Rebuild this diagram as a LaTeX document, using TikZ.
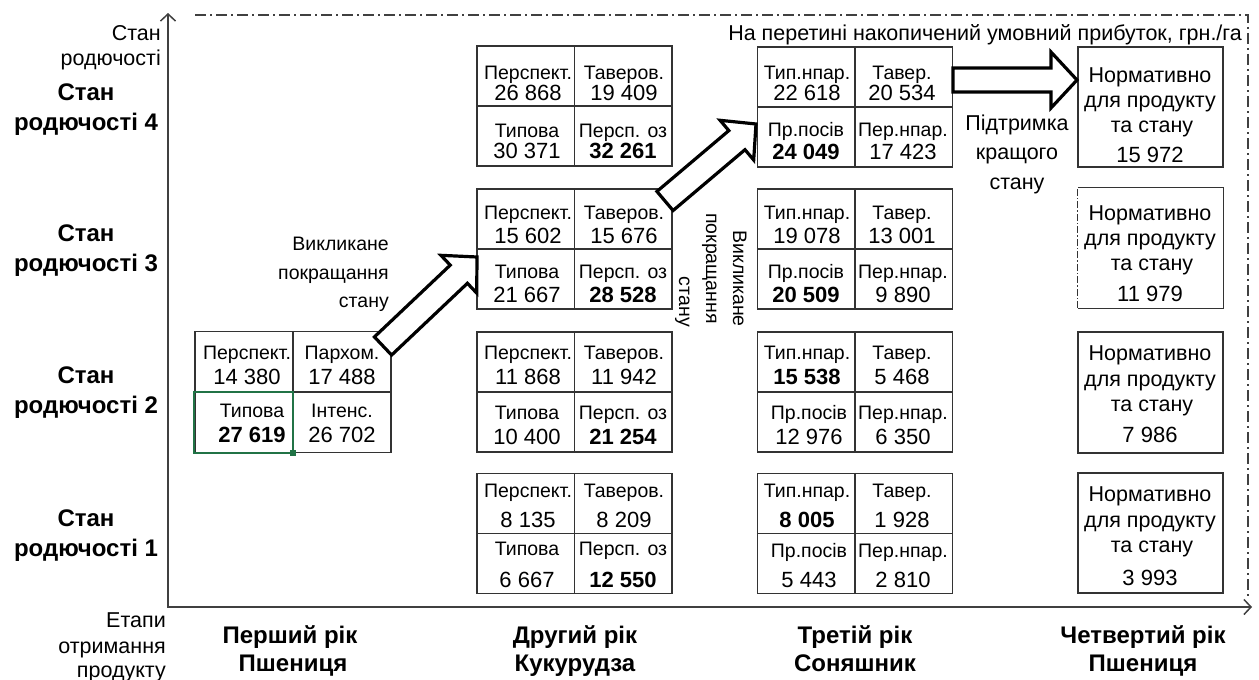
\documentclass[tikz,border=0pt]{standalone}
\usepackage{fontspec}
\setmainfont{Liberation Sans}
\usetikzlibrary{calc,arrows.meta}
\definecolor{selg}{HTML}{217346}
\tikzset{
  gridbox/.style={draw=black!80, line width=1.2pt, inner sep=0pt, minimum width=195pt, minimum height=120pt},
  gline/.style={draw=black!80, line width=1.2pt},
  gdash/.style={draw=black!80, line width=1pt, dash pattern=on 7pt off 2pt on 1.5pt off 2pt},
  lbl/.style={font=\fontsize{19.5}{22}\selectfont, inner sep=0pt, text height=14pt, text depth=0pt},
  num/.style={font=\fontsize{22}{25}\selectfont, inner sep=0pt, text height=15.8pt, text depth=0pt},
  numb/.style={num, font=\fontsize{22}{25}\selectfont\bfseries},
  txt/.style={font=\fontsize{21.5}{25}\selectfont, inner sep=0pt, text height=15.4pt, text depth=0pt},
  rtxt/.style={font=\fontsize{19.5}{22}\selectfont, inner sep=0pt, text height=14pt, text depth=0pt},
  big/.style={font=\fontsize{24}{28}\selectfont\bfseries, inner sep=0pt, text height=17.2pt, text depth=0pt},
  axisline/.style={draw=black!75, line width=1.5pt},
  frameline/.style={draw=black!75, line width=1.5pt, dash pattern=on 11pt off 4pt on 2pt off 4pt},
  bigarrow/.style={draw=black, fill=white, line width=3.2pt, line join=miter},
  sel/.style={draw=selg, line width=2pt}
}
\newcommand\qcell[7]{\node[lbl] (#1l) at (#2,#3) {#5}; \node[#7] (#1n) at (#2,#4) {#6};}
\newcommand\gblock[3]{\node[gridbox] (#1) at (#2,#3) {};
  \draw[gline] (#1.north) -- (#1.south) (#1.west) -- (#1.east);}
\newcommand\barrow[5]{%
\draw[bigarrow] let \p1=($(#2)-(#1)$), \n1={atan2(\y1,\x1)}, \n2={veclen(\x1,\y1)} in
 ($(#1)+({\n1+90}:#3)$) -- ($(#1)+({\n1+90}:#3)+({\n1}:{\n2-#5})$) -- ($(#1)+({\n1+90}:#4)+({\n1}:{\n2-#5})$) -- (#2) -- ($(#1)+({\n1-90}:#4)+({\n1}:{\n2-#5})$) -- ($(#1)+({\n1-90}:#3)+({\n1}:{\n2-#5})$) -- ($(#1)+({\n1-90}:#3)$) -- cycle;}
\begin{document}
\begin{tikzpicture}[x=1pt,y=-1pt]
\useasboundingbox (0,0) rectangle (1259,680);
% frame
\coordinate (fa) at (195,15); \coordinate (fb) at (1248,15); \coordinate (fc) at (1248,596);
\draw[frameline] (fa) -- (fb) -- (fc);
% axes
\coordinate (o) at (168,607); \coordinate (ytop) at (168,13); \coordinate (xend) at (1252,607);
\draw[axisline, {Straight Barb[length=7pt,width=15pt]}-{Straight Barb[length=7pt,width=15pt]}] (ytop) -- (o) -- (xend);
% axis labels
\node[txt, anchor=east] (ya) at (161,33) {Стан};
\node[txt, anchor=east] (yb) at (161,58) {родючості};
\node[txt, anchor=east] (xa) at (166,620) {Етапи};
\node[txt, anchor=east] (xb) at (166,646) {отримання};
\node[txt, anchor=east] (xc) at (166,670) {продукту};
\node[txt] (title) at (985,33) {На перетині накопичений умовний прибуток, грн./га};
% row labels
\node[big] (r4a) at (86,92) {Стан}; \node[big] (r4b) at (86,122) {родючості 4};
\node[big] (r3a) at (86,233) {Стан}; \node[big] (r3b) at (86,263) {родючості 3};
\node[big] (r2a) at (86,375) {Стан}; \node[big] (r2b) at (86,405) {родючості 2};
\node[big] (r1a) at (86,518) {Стан}; \node[big] (r1b) at (86,548) {родючості 1};
% column labels
\node[big] (c1a) at (290,635) {Перший рік}; \node[big] (c1b) at (293,663) {Пшениця};
\node[big] (c2a) at (575,635) {Другий рік}; \node[big] (c2b) at (575,663) {Кукурудза};
\node[big] (c3a) at (855,635) {Третій рік}; \node[big] (c3b) at (855,663) {Соняшник};
\node[big] (c4a) at (1143,635) {Четвертий рік}; \node[big] (c4b) at (1143,663) {Пшениця};
% year 1
\node[gridbox, minimum width=196pt, minimum height=121pt] (b12) at (293,392) {};
\draw[gline] (b12.north) -- (b12.south) (b12.west) -- (b12.east);
\draw[sel] (b12.west) rectangle (b12.south);
\node[fill=selg, minimum size=6pt, inner sep=0pt] (handle) at (b12.south) {};
\qcell{p1a}{247}{352}{377}{Перспект.}{14 380}{num}
\qcell{p1b}{342}{352}{377}{Пархом.}{17 488}{num}
\qcell{p1c}{252}{410}{435}{Типова}{27 619}{numb}
\qcell{p1d}{342}{410}{435}{Інтенс.}{26 702}{num}
% year 2
\gblock{b24}{574.5}{106}
\gblock{b23}{574.5}{249}
\gblock{b22}{574.5}{392}
\gblock{b21}{574.5}{533.5}
\qcell{q4a}{528}{72}{93}{Перспект.}{26 868}{num}
\qcell{q4b}{624}{72}{93}{Таверов.}{19 409}{num}
\qcell{q4c}{527}{130}{151}{Типова}{30 371}{num}
\qcell{q4d}{623}{130}{151}{Персп. оз}{32 261}{numb}
\qcell{q3a}{528}{212}{236}{Перспект.}{15 602}{num}
\qcell{q3b}{624}{212}{236}{Таверов.}{15 676}{num}
\qcell{q3c}{527}{271}{295}{Типова}{21 667}{num}
\qcell{q3d}{623}{271}{295}{Персп. оз}{28 528}{numb}
\qcell{q2a}{528}{352}{377}{Перспект.}{11 868}{num}
\qcell{q2b}{624}{352}{377}{Таверов.}{11 942}{num}
\qcell{q2c}{527}{412}{437}{Типова}{10 400}{num}
\qcell{q2d}{623}{412}{437}{Персп. оз}{21 254}{numb}
\qcell{q1a}{528}{490}{520}{Перспект.}{8 135}{num}
\qcell{q1b}{624}{490}{520}{Таверов.}{8 209}{num}
\qcell{q1c}{527}{548}{580}{Типова}{6 667}{num}
\qcell{q1d}{623}{548}{580}{Персп. оз}{12 550}{numb}
% year 3
\gblock{b34}{855}{107}
\gblock{b33}{855}{249}
\gblock{b32}{855}{392}
\gblock{b31}{855}{533.5}
\qcell{s4a}{807}{72}{93}{Тип.нпар.}{22 618}{num}
\qcell{s4b}{902}{72}{93}{Тавер.}{20 534}{num}
\qcell{s4c}{806}{129}{152}{Пр.посів}{24 049}{numb}
\qcell{s4d}{903}{129}{152}{Пер.нпар.}{17 423}{num}
\qcell{s3a}{807}{212}{236}{Тип.нпар.}{19 078}{num}
\qcell{s3b}{902}{212}{236}{Тавер.}{13 001}{num}
\qcell{s3c}{806}{271}{295}{Пр.посів}{20 509}{numb}
\qcell{s3d}{903}{271}{295}{Пер.нпар.}{9 890}{num}
\qcell{s2a}{807}{352}{377}{Тип.нпар.}{15 538}{numb}
\qcell{s2b}{902}{352}{377}{Тавер.}{5 468}{num}
\qcell{s2c}{809}{412}{437}{Пр.посів}{12 976}{num}
\qcell{s2d}{903}{412}{437}{Пер.нпар.}{6 350}{num}
\qcell{s1a}{807}{490}{520}{Тип.нпар.}{8 005}{numb}
\qcell{s1b}{902}{490}{520}{Тавер.}{1 928}{num}
\qcell{s1c}{809}{550}{580}{Пр.посів}{5 443}{num}
\qcell{s1d}{903}{550}{580}{Пер.нпар.}{2 810}{num}
% year 4
\node[gridbox, minimum width=145pt] (n4) at (1150.5,107) {};
\node[inner sep=0pt, minimum width=145pt, minimum height=120pt] (n3) at (1150.5,248) {};
\draw[gline] (n3.north west) -- (n3.north east) -- (n3.south east) -- (n3.south west);
\draw[gdash] (n3.south west) -- (n3.north west);
\node[gridbox, minimum width=145pt, minimum height=121pt] (n2) at (1150.5,392.5) {};
\node[gridbox, minimum width=145pt] (n1) at (1150.5,533) {};
\node[txt] (t4a) at (1150,75) {Нормативно}; \node[txt] (t4b) at (1150,100) {для продукту};
\node[txt] (t4c) at (1152,125) {та стану}; \node[num] (t4d) at (1150,155) {15 972};
\node[txt] (t3a) at (1150,213) {Нормативно}; \node[txt] (t3b) at (1150,238) {для продукту};
\node[txt] (t3c) at (1152,263) {та стану}; \node[num] (t3d) at (1150,294) {11 979};
\node[txt] (t2a) at (1150,353) {Нормативно}; \node[txt] (t2b) at (1150,379) {для продукту};
\node[txt] (t2c) at (1152,404) {та стану}; \node[num] (t2d) at (1150,435) {7 986};
\node[txt] (t1a) at (1150,494) {Нормативно}; \node[txt] (t1b) at (1150,520) {для продукту};
\node[txt] (t1c) at (1152,545) {та стану}; \node[num] (t1d) at (1150,578) {3 993};
% annotations
\node[rtxt, anchor=east] (v1) at (389,243) {Викликане};
\node[rtxt, anchor=east] (v2) at (389,272) {покращання};
\node[rtxt, anchor=east] (v3) at (389,300) {стану};
\node[rtxt, rotate=-90, anchor=east] (w1) at (740,327) {Викликане};
\node[rtxt, rotate=-90, anchor=east] (w2) at (713,324) {покращання};
\node[rtxt, rotate=-90, anchor=east] (w3) at (686,327) {стану};
\node[txt] (u1) at (1017,123) {Підтримка};
\node[txt] (u2) at (1017,152) {кращого};
\node[txt] (u3) at (1017,182) {стану};
% block arrows
\coordinate (a1t) at (383,346); \coordinate (a1h) at (477,257);
\coordinate (a2t) at (665,201); \coordinate (a2h) at (756,124);
\coordinate (a3t) at (953,80); \coordinate (a3h) at (1077,80);
\barrow{a1t}{a1h}{12.5pt}{26pt}{25pt}
\barrow{a2t}{a2h}{12.5pt}{26pt}{25pt}
\barrow{a3t}{a3h}{12pt}{28pt}{26pt}
\end{tikzpicture}
\end{document}
